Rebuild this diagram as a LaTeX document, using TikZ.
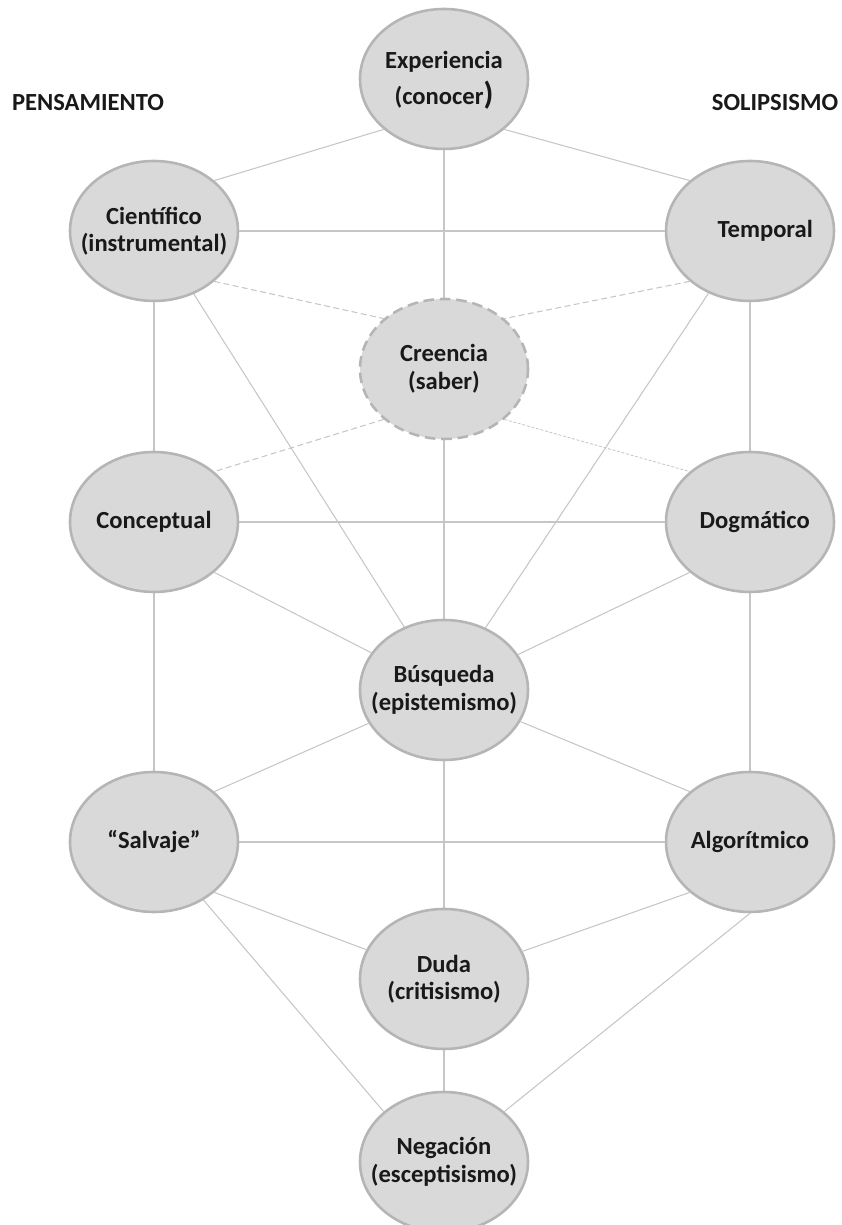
\documentclass[tikz,border=0pt]{standalone}
\usepackage{fontspec}
\setmainfont{Carlito}
\usetikzlibrary{shapes.geometric}
\definecolor{nodefill}{HTML}{D9D9D9}
\definecolor{nodeline}{HTML}{B5B5B5}
\definecolor{linkgray}{HTML}{C6C6C6}
\begin{document}
\begin{tikzpicture}[
    bubble/.style={ellipse, draw=nodeline, fill=nodefill, line width=2.2pt, minimum width=5.04cm, minimum height=4.2cm, inner xsep=-25pt, inner ysep=0pt, align=center, text=black!90, font=\bfseries\fontsize{21}{23.5}\selectfont},
    heading/.style={text=black!90, font=\bfseries\fontsize{21}{23.5}\selectfont},
    link/.style={draw=linkgray, line width=0.9pt},
    dashlink/.style={link, dash pattern=on 5pt off 3pt},
    dotlink/.style={link, line width=0.7pt, dash pattern=on 2.5pt off 1.5pt}
]
    \useasboundingbox (0,0) rectangle (25.23,36.75);

    % Side headings
    \node[heading] (pens) at (2.64,33.66) {PENSAMIENTO};
    \node[heading] (soli) at (23.25,33.66) {SOLIPSISMO};

    % Top row
    \node[bubble] (exp) at (13.32,34.38) {\\[-6pt]Experiencia\\[7pt](conocer{\fontsize{27}{23}\selectfont)}};
    \node[bubble] (cien) at (4.62,29.82) {Científico\\(instrumental)};
    \node[bubble] (temp) at (22.5,29.82) {\hspace*{26pt}Temporal};

    % Belief (dashed)
    \node[bubble, dashed, dash pattern=on 9pt off 5pt] (cree) at (13.32,25.68) {Creencia\\(saber)};

    % Middle rows
    \node[bubble] (conc) at (4.62,21.09) {Conceptual};
    \node[bubble] (dogm) at (22.5,21.09) {\hspace*{8pt}Dogmático};
    \node[bubble] (busq) at (13.32,16.05) {Búsqueda\\(epistemismo)};
    \node[bubble] (salv) at (4.62,11.49) {“Salvaje”};
    \node[bubble] (algo) at (22.5,11.49) {Algorítmico};

    % Bottom
    \node[bubble] (duda) at (13.32,7.38) {Duda\\(critisismo)};
    \node[bubble] (nega) at (13.32,1.89) {Negación\\(esceptisismo)};

    % Connections
    \draw[link] (exp.south west) -- (cien.north east);
    \draw[link] (exp.south east) -- (temp.north west);
    \draw[link] (exp) -- (cree);
    \draw[link] (cien) -- (temp);
    \draw[dashlink] (cien.south east) -- (cree.north west);
    \draw[dashlink] (temp.south west) -- (cree.north east);
    \draw[link] (cien) -- (conc);
    \draw[link] (cien) -- (busq);
    \draw[link] (temp) -- (dogm);
    \draw[link] (temp) -- (busq);
    \draw[dashlink] (cree.south west) -- (conc.north east);
    \draw[dotlink] (cree.south east) -- (dogm.north west);
    \draw[link] (cree) -- (busq);
    \draw[link] (conc) -- (dogm);
    \draw[link] (conc.south east) -- (busq);
    \draw[link] (dogm.south west) -- (busq);
    \draw[link] (conc) -- (salv);
    \draw[link] (dogm) -- (algo);
    \draw[link] (salv.north east) -- (busq);
    \draw[link] (algo.north west) -- (busq);
    \draw[link] (busq) -- (duda);
    \draw[link] (salv) -- (algo);
    \draw[link] (salv.south east) -- (duda);
    \draw[link] (algo.south west) -- (duda);
    \draw[link] (salv) -- (nega.north west);
    \draw[link] (algo.south) -- (nega.north east);
    \draw[link] (duda) -- (nega);
\end{tikzpicture}
\end{document}
